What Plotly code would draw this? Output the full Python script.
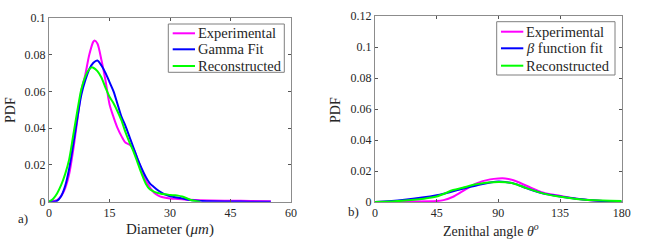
import plotly.graph_objects as go

# ---- Panel a) Diameter PDFs ----
exp_d_x = [0,1,2,3,4,5,6,7,8,9,10,11,11.3,12,13,14,15,16,17,18,19,20,21,22,23,24,25,26,27,28,30,32,35,40,45,50,55]
exp_d_y = [0,0.0003,0.0008,0.003,0.0073,0.015,0.028,0.044,0.060,0.069,0.080,0.0870,0.0876,0.086,0.077,0.066,0.053,0.046,0.040,0.0355,0.032,0.031,0.0285,0.023,0.017,0.0115,0.0078,0.005,0.0035,0.0026,0.0018,0.0015,0.001,0.0006,0.0005,0.0004,0.0002]

gam_d_x = [0,1,2,3,4,5,6,7,8,9,10,11,12,13,14,15,16,17,18,19,20,21,22,23,24,25,26,27,28,29,30,31,33,35,38,40,45,50,55]
gam_d_y = [0,0,0.0005,0.003,0.0085,0.018,0.031,0.045,0.058,0.066,0.072,0.0755,0.0767,0.074,0.070,0.065,0.060,0.053,0.046,0.041,0.035,0.029,0.023,0.018,0.0135,0.010,0.008,0.0062,0.0048,0.0037,0.003,0.0026,0.0018,0.0009,0.0004,0.0002,0.0001,0,0]

rec_d_x = [0,1,2,3,4,5,6,7,8,9,10,10.6,11,12,13,14,15,16,17,18,19,20,21,22,23,24,25,26,27,28,29,30,31,32,33,34,35,36,37.5]
rec_d_y = [0,0.0015,0.0045,0.009,0.015,0.023,0.036,0.049,0.061,0.068,0.072,0.073,0.0728,0.071,0.0675,0.062,0.057,0.0535,0.049,0.044,0.0375,0.032,0.027,0.021,0.015,0.0098,0.0067,0.0055,0.0047,0.0042,0.004,0.0037,0.0035,0.0033,0.0028,0.002,0.0011,0.0005,0]

# ---- Panel b) Zenithal angle PDFs ----
exp_z_x = [0,20,45,50,57,64,74,84,90,95,101,111,123,133,147,166,180]
exp_z_y = [0,0.0003,0.0006,0.0012,0.0034,0.007,0.012,0.0146,0.0152,0.0152,0.014,0.0103,0.006,0.0043,0.0021,0.0006,0.0001]

fit_z_x = [0,20,45,64,74,90,101,111,123,133,147,166,180]
fit_z_y = [0,0.0013,0.0043,0.0086,0.0107,0.0133,0.012,0.0088,0.0054,0.0039,0.0021,0.0006,0.0001]

rec_z_x = [0,20,45,57,64,74,90,101,111,123,133,147,166,180]
rec_z_y = [0,0.0008,0.0036,0.0077,0.0092,0.0114,0.0129,0.012,0.0088,0.0054,0.0037,0.002,0.0009,0.0006]

d_ticks = [0, 15, 30, 45, 60]
d_yticks = [0, 0.02, 0.04, 0.06, 0.08, 0.1]
z_ticks = [0, 45, 90, 135, 180]
z_yticks = [0, 0.02, 0.04, 0.06, 0.08, 0.1, 0.12]

names_a = ["Experimental", "Gamma Fit", "Reconstructed"]
names_b = ["Experimental", "<i>β</i> function fit", "Reconstructed"]

MAG, BLU, GRN = "#ff00ff", "#0000ff", "#00ff00"
colors = [MAG, BLU, GRN]
FONT = "Liberation Serif, Times New Roman, serif"
W = 654; H = 242

fig = go.Figure()
lw = 2
def add(x, y, c, name, xa, ya):
    fig.add_trace(go.Scatter(x=x, y=y, mode="lines", line=dict(color=c, width=lw, shape="spline", smoothing=0.8),
                             name=name, xaxis=xa, yaxis=ya, showlegend=False))

add(exp_d_x, exp_d_y, MAG, names_a[0], "x", "y")
add(gam_d_x, gam_d_y, BLU, names_a[1], "x", "y")
add(rec_d_x, rec_d_y, GRN, names_a[2], "x", "y")
add(exp_z_x, exp_z_y, MAG, names_b[0], "x2", "y2")
add(fit_z_x, fit_z_y, BLU, names_b[1], "x2", "y2")
add(rec_z_x, rec_z_y, GRN, names_b[2], "x2", "y2")

axcol = "#8c8c8c"
TXT = "#262626"
common = dict(showgrid=False, zeroline=False, showline=True, linecolor=axcol, linewidth=1,
              mirror="ticks", ticks="inside", ticklen=3, tickcolor="#555555",
              tickfont=dict(family=FONT, size=12, color=TXT), automargin=False)

fig.update_layout(
    width=W, height=H,
    margin=dict(l=0, r=0, t=0, b=0),
    paper_bgcolor="white", plot_bgcolor="white",
    font=dict(family=FONT, size=13, color=TXT),
    xaxis=dict(domain=[49/W, 291/W], range=[0, 60], tickvals=d_ticks, anchor="y", **common),
    yaxis=dict(domain=[1-201.7/H, 1-17.7/H], range=[0, 0.1], tickvals=d_yticks, anchor="x", **common),
    xaxis2=dict(domain=[375/W, 621.7/W], range=[0, 180], tickvals=z_ticks, anchor="y2", **common),
    yaxis2=dict(domain=[1-202/H, 1-16/H], range=[0, 0.12], tickvals=z_yticks, anchor="x2", **common),
    showlegend=False,
)

# manual legends (MATLAB-style compact boxes) in pixel-derived paper coords
def legend_box(x0, x1, y0, y1, line_x0, line_x1, rows_y, text_x, names):
    fig.add_shape(type="rect", xref="paper", yref="paper",
                  x0=x0/W, x1=x1/W, y0=1-y1/H, y1=1-y0/H,
                  line=dict(color="#7f7f7f", width=1), fillcolor="white", layer="above")
    for ry, c, nm in zip(rows_y, colors, names):
        fig.add_shape(type="line", xref="paper", yref="paper",
                      x0=line_x0/W, x1=line_x1/W, y0=1-ry/H, y1=1-ry/H,
                      line=dict(color=c, width=2), layer="above")
        fig.add_annotation(xref="paper", yref="paper", x=text_x/W, y=1-ry/H,
                           text=nm, showarrow=False, xanchor="left", yanchor="middle",
                           font=dict(family=FONT, size=14.5, color=TXT))

legend_box(168.3, 284.3, 24, 72.3, 172.7, 195, [33.3, 49.3, 66], 195.5, names_a)
legend_box(496.7, 615, 21.7, 75, 501, 523.3, [31.7, 48.3, 65.7], 523.5, names_b)

ann = [
    dict(text="PDF", x=10/W, y=1-110/H, textangle=-90, size=14),
    dict(text="Diameter (<i>μm</i>)", x=170/W, y=1-229/H, size=15),
    dict(text="PDF", x=335/W, y=1-110/H, textangle=-90, size=14),
    dict(text="Zenithal angle <i>θ</i><sup><i>o</i></sup>", x=491/W, y=1-230/H, size=14),
    dict(text="a)", x=23/W, y=1-218/H, size=13),
    dict(text="b)", x=353/W, y=1-211/H, size=13),
]
for a in ann:
    sz = a.pop("size")
    fig.add_annotation(xref="paper", yref="paper", showarrow=False,
                       xanchor="center", yanchor="middle",
                       font=dict(family=FONT, size=sz, color=TXT), **a)

fig.write_html("out.html", config={"displayModeBar": False},
               post_script="document.body.style.margin='0px';document.body.style.padding='0px';")
